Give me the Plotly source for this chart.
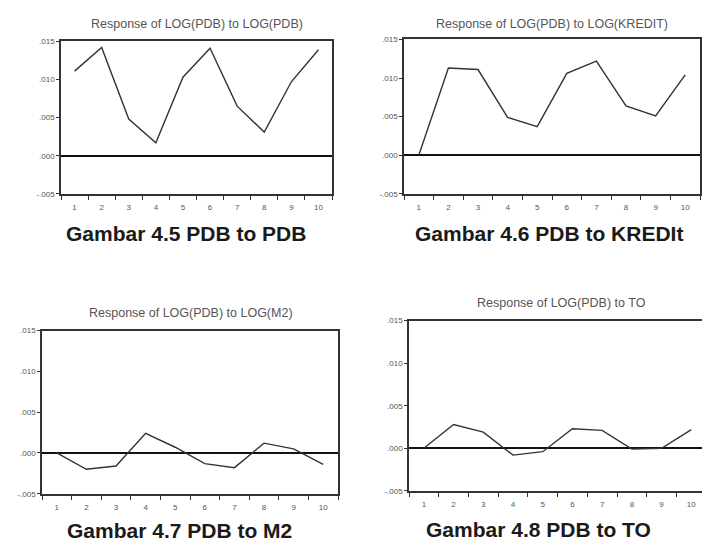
import plotly.graph_objects as go

periods = ["1", "2", "3", "4", "5", "6", "7", "8", "9", "10"]
pdb_to_pdb = [0.0111, 0.0142, 0.0048, 0.0017, 0.0103, 0.0141, 0.0065, 0.0031, 0.0097, 0.0139]
pdb_to_kredit = [0.0000, 0.0113, 0.0111, 0.0049, 0.0037, 0.0106, 0.0122, 0.0064, 0.0051, 0.0104]
pdb_to_m2 = [0.0000, -0.0020, -0.0016, 0.0024, 0.0007, -0.0013, -0.0018, 0.0012, 0.0005, -0.0014]
pdb_to_to = [0.0000, 0.0028, 0.0019, -0.0008, -0.0004, 0.0023, 0.0021, -0.0001, 0.0000, 0.0022]

y_tickvals = [-0.005, 0.0, 0.005, 0.010, 0.015]
y_ticktext = ["-.005", ".000", ".005", ".010", ".015"]

titles = ["Response of LOG(PDB) to LOG(PDB)", "Response of LOG(PDB) to LOG(KREDIT)",
          "Response of LOG(PDB) to LOG(M2)", "Response of LOG(PDB) to TO"]
captions = ["Gambar 4.5 PDB to PDB", "Gambar 4.6 PDB to KREDIt",
            "Gambar 4.7 PDB to M2", "Gambar 4.8 PDB to TO"]
series = [pdb_to_pdb, pdb_to_kredit, pdb_to_m2, pdb_to_to]

W, H = 702, 545
# panel boxes in pixels: left, right, top, bottom
boxes = [(61, 332, 38, 193), (404, 700, 36, 193), (42, 338, 332, 498), (409, 702, 322, 495)]
x_ranges = [[-0.5, 9.5], [-0.5, 9.5], [-0.5, 9.5], [-0.5, 9.36]]
title_pos = [(197, 20), (552, 20), (191, 314), (561, 304)]
caption_pos = [(186, 233), (549, 233), (179, 535), (538, 534)]

FONT = "Arial, Liberation Sans, sans-serif"
fig = go.Figure()
for i, vals in enumerate(series):
    n = "" if i == 0 else str(i + 1)
    fig.add_trace(go.Scatter(x=periods, y=vals, mode="lines",
                             line=dict(color="#333333", width=1.4),
                             xaxis="x" + n, yaxis="y" + n, showlegend=False))
    l, r, t, b = boxes[i]
    fig.layout["xaxis" + n] = dict(
        type="category", domain=[l / W, r / W], range=x_ranges[i], anchor="y" + n,
        showline=True, linecolor="#333333", linewidth=1.5, mirror=True,
        showgrid=False, zeroline=False, tickson="boundaries", ticks="outside",
        ticklen=4, tickcolor="#333333", tickwidth=1.2, ticklabelstandoff=5,
        tickfont=dict(family=FONT, size=8, color="#555555"))
    fig.layout["yaxis" + n] = dict(
        domain=[1 - b / H, 1 - t / H], range=[-0.005, 0.015], anchor="x" + n,
        showline=True, linecolor="#333333", linewidth=1.5, mirror=(i != 3),
        showgrid=False, zeroline=True, zerolinecolor="#111111", zerolinewidth=1.5,
        tickvals=y_tickvals, ticktext=y_ticktext, ticks="outside", ticklen=3,
        tickcolor="#333333", tickwidth=1.2,
        tickfont=dict(family=FONT, size=8, color="#555555"))
    fig.add_annotation(x=title_pos[i][0] / W, y=1 - title_pos[i][1] / H, xref="paper", yref="paper",
                       text=titles[i], showarrow=False, xanchor="center", yanchor="middle",
                       font=dict(family=FONT, size=12.5, color="#555555"))
    fig.add_annotation(x=caption_pos[i][0] / W, y=1 - caption_pos[i][1] / H, xref="paper", yref="paper",
                       text="<b>" + captions[i] + "</b>", showarrow=False, xanchor="center", yanchor="middle",
                       font=dict(family=FONT, size=21, color="#1a1a1a"))

fig.update_layout(width=W, height=H, margin=dict(l=0, r=0, t=0, b=0),
                  paper_bgcolor="white", plot_bgcolor="white")
fig.write_html("out.html", config={"displayModeBar": False},
               post_script="document.body.style.margin='0';document.body.style.overflow='hidden';")
